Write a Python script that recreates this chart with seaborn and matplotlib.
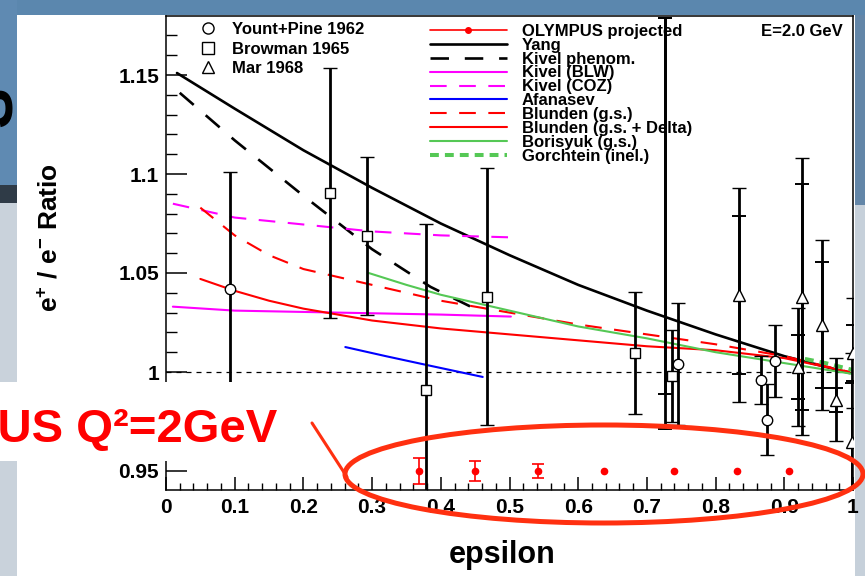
import numpy as np
import pandas as pd
import matplotlib
matplotlib.use("Agg")
import matplotlib.pyplot as plt
import seaborn as sns
from matplotlib.lines import Line2D
from matplotlib.patches import Rectangle, Ellipse
from matplotlib.ticker import MultipleLocator

# ---------------- data ----------------
yang_x = [0.016, 0.1, 0.2, 0.3, 0.4, 0.5, 0.6, 0.7, 0.8, 0.9, 0.995]
yang_y = [1.151, 1.133, 1.112, 1.093, 1.075, 1.059, 1.044, 1.031, 1.019, 1.008, 0.9995]

kivel_ph_x = [0.02, 0.1, 0.2, 0.3, 0.385, 0.461]
kivel_ph_y = [1.141, 1.117, 1.089, 1.062, 1.043, 1.030]

kivel_blw_x = [0.01, 0.1, 0.25, 0.4, 0.502]
kivel_blw_y = [1.033, 1.031, 1.030, 1.029, 1.028]

kivel_coz_x = [0.01, 0.1, 0.2, 0.3, 0.4, 0.502]
kivel_coz_y = [1.085, 1.078, 1.0745, 1.071, 1.069, 1.068]

afanasev_x = [0.261, 0.32, 0.38, 0.461]
afanasev_y = [1.0126, 1.008, 1.0035, 0.9975]

blunden_gs_x = [0.05, 0.1, 0.15, 0.2, 0.3, 0.4, 0.5, 0.6, 0.7, 0.8, 0.9, 0.995]
blunden_gs_y = [1.083, 1.069, 1.059, 1.052, 1.044, 1.036, 1.030, 1.024, 1.019, 1.014, 1.008, 1.000]

blunden_d_x = [0.05, 0.1, 0.15, 0.2, 0.3, 0.4, 0.5, 0.6, 0.7, 0.8, 0.9, 0.995]
blunden_d_y = [1.047, 1.041, 1.036, 1.032, 1.026, 1.022, 1.019, 1.016, 1.013, 1.011, 1.007, 1.000]

borisyuk_x = [0.295, 0.35, 0.4, 0.5, 0.6, 0.7, 0.8, 0.9, 1.0]
borisyuk_y = [1.050, 1.044, 1.039, 1.031, 1.023, 1.017, 1.010, 1.0045, 0.999]

gorchtein_x = [0.93, 0.96, 1.0]
gorchtein_y = [1.0066, 1.0045, 1.001]

# Yount+Pine 1962 (circles)
yp_x = [0.093, 0.745, 0.866, 0.875, 0.886]
yp_y = [1.042, 1.004, 0.996, 0.976, 1.0056]
yp_err = [0.059, 0.031, 0.012, 0.018, 0.018]

# Browman 1965 (squares)
br_x = [0.238, 0.293, 0.378, 0.467, 0.682, 0.737]
br_y = [1.0904, 1.0687, 0.991, 1.038, 1.0096, 0.998]
br_err = [0.063, 0.040, 0.084, 0.065, 0.031, 0.023]

# bar without visible marker
extra_x = [0.726]
extra_y = [1.075]
extra_err = [0.104]
extra_stat_low = [0.086]
extra_stat_high = [0.104]

# Mar 1968 (triangles)
mar_x = [0.834, 0.920, 0.926, 0.955, 0.975, 0.998, 1.0]
mar_y = [1.039, 1.0025, 1.038, 1.0237, 0.986, 0.9646, 1.0096]
mar_err = [0.054, 0.030, 0.070, 0.043, 0.021, 0.045, 0.028]
mar_stat = [0.040, 0.016, 0.057, 0.032, 0.006, 0.030, 0.014]

# OLYMPUS projected (nan = error bar hidden behind the dot)
oly_x = [0.368, 0.45, 0.541, 0.638, 0.739, 0.831, 0.907]
oly_y = [0.95, 0.95, 0.95, 0.95, 0.95, 0.95, 0.95]
oly_err = [0.0066, 0.005, 0.0035, np.nan, np.nan, np.nan, np.nan]

unity = 1.0
x_ticks = [0, 0.1, 0.2, 0.3, 0.4, 0.5, 0.6, 0.7, 0.8, 0.9, 1.0]
x_tick_labels = ["0", "0.1", "0.2", "0.3", "0.4", "0.5", "0.6", "0.7", "0.8", "0.9", "1"]
y_ticks = [0.95, 1.0, 1.05, 1.1, 1.15]
y_tick_labels = ["0.95", "1", "1.05", "1.1", "1.15"]

marker_labels = ["Yount+Pine 1962", "Browman 1965", "Mar 1968"]
curve_labels = ["OLYMPUS projected", "Yang", "Kivel phenom.", "Kivel (BLW)", "Kivel (COZ)",
                "Afanasev", "Blunden (g.s.)", "Blunden (g.s. + Delta)", "Borisyuk (g.s.)",
                "Gorchtein (inel.)"]

# ---------------- style ----------------
sns.set_theme(style="ticks")
plt.rcParams["font.family"] = ["Liberation Sans", "DejaVu Sans"]
plt.rcParams["font.weight"] = "bold"
plt.rcParams["text.color"] = "black"
plt.rcParams["xtick.color"] = "black"
plt.rcParams["ytick.color"] = "black"
plt.rcParams["mathtext.fontset"] = "custom"
plt.rcParams["mathtext.rm"] = "Liberation Sans:bold"
plt.rcParams["mathtext.bf"] = "Liberation Sans:bold"
plt.rcParams["mathtext.default"] = "regular"

W, H = 865, 576
fig = plt.figure(figsize=(W / 100, H / 100), dpi=100, facecolor="#5b87ae")


def fx(p):
    return p / W


def fy(p):
    return 1 - p / H


def frect(x0, y0, x1, y1, color, z):
    fig.add_artist(Rectangle((fx(x0), fy(y1)), fx(x1) - fx(x0), fy(y0) - fy(y1),
                             transform=fig.transFigure, facecolor=color,
                             edgecolor="none", zorder=z))


# slide backdrop
frect(0, 0, 17, 185, "#5f8ab2", -10)
frect(0, 185, 17, 203, "#2f3b47", -10)
frect(0, 203, 17, 576, "#c9d2db", -10)
frect(855, 15, 865, 205, "#6386a8", -10)
frect(855, 205, 865, 576, "#c6d0da", -10)
fig.text(fx(-4), fy(107), "S", rotation=90, ha="center", va="center",
         fontsize=44, weight="bold", color="black", zorder=-9)
frect(17, 15, 855, 576, "white", -8)

ax = fig.add_axes([fx(166), fy(490), fx(853) - fx(166), fy(16) - fy(490)])
ax.set_facecolor("white")
ax.set_xlim(0, 1)
ax.set_ylim(1 + (372 - 490) / 1980, 1 + (372 - 16) / 1980)

# ---------------- curves ----------------
curves = [
    (yang_x, yang_y, "black", "-", 1.9),
    (kivel_ph_x, kivel_ph_y, "black", (0, (7, 6)), 1.9),
    (kivel_blw_x, kivel_blw_y, "#ff00ff", "-", 1.5),
    (kivel_coz_x, kivel_coz_y, "#ff00ff", (0, (8, 6)), 1.5),
    (afanasev_x, afanasev_y, "#0000ff", "-", 1.5),
    (blunden_gs_x, blunden_gs_y, "#ff0000", (0, (8, 6)), 1.5),
    (blunden_d_x, blunden_d_y, "#ff0000", "-", 1.5),
    (borisyuk_x, borisyuk_y, "#55c855", "-", 1.5),
    (gorchtein_x, gorchtein_y, "#55c855", (0, (2.2, 1.5)), 2.9),
]
for cx, cy, col, ls, lw in curves:
    sns.lineplot(x=cx, y=cy, color=col, linestyle=ls, linewidth=lw, ax=ax,
                 legend=False, zorder=3)

ax.axhline(unity, color="black", lw=0.9, ls=(0, (4, 4)), zorder=2)

# ---------------- data points ----------------
eb = dict(ecolor="black", elinewidth=2.0, capsize=5, capthick=1.4, zorder=4)
ax.errorbar(yp_x, yp_y, yerr=yp_err, fmt="o", ms=7.5, mfc="white", mec="black",
            mew=1.0, **eb)
ax.errorbar(br_x, br_y, yerr=br_err, fmt="s", ms=7, mfc="white", mec="black",
            mew=1.0, **eb)
ax.errorbar(extra_x, extra_y, yerr=extra_err, fmt="none", **eb)
ax.errorbar(extra_x, extra_y, yerr=[extra_stat_low, extra_stat_high], fmt="none", **eb)
ax.errorbar(mar_x, mar_y, yerr=mar_err, fmt="^", ms=8.5, mfc="white", mec="black",
            mew=1.0, **eb)
ax.errorbar(mar_x, mar_y, yerr=mar_stat, fmt="none", **eb)
ax.errorbar(oly_x, oly_y, yerr=oly_err, fmt="o", ms=4.5, color="#ff0000",
            ecolor="#ff0000", elinewidth=1.2, capsize=4.5, capthick=1.2, zorder=5)

# ---------------- axes styling ----------------
for s in ax.spines.values():
    s.set_color("black")
    s.set_linewidth(1.1)
ax.set_xticks(x_ticks, labels=x_tick_labels)
ax.set_yticks(y_ticks, labels=y_tick_labels)
ax.xaxis.set_minor_locator(MultipleLocator(0.02))
ax.yaxis.set_minor_locator(MultipleLocator(0.01))
ax.tick_params(axis="x", which="major", direction="in", length=9.5, width=1.1,
               pad=6, labelsize=15)
ax.tick_params(axis="x", which="minor", direction="in", length=5, width=1.0)
ax.tick_params(axis="y", which="major", direction="in", length=15, width=1.1,
               pad=5, labelsize=15)
ax.tick_params(axis="y", which="minor", direction="in", length=8, width=1.0)
for lab in ax.get_xticklabels() + ax.get_yticklabels():
    lab.set_fontweight("bold")
ax.set_xlabel("")
ax.set_ylabel("")

fig.text(fx(502), fy(555), "epsilon", ha="center", va="center", fontsize=22,
         weight="bold")
fig.text(fx(50), fy(238), r"e$^{+}$ / e$^{-}$ Ratio", rotation=90, ha="center",
         va="center", fontsize=19, weight="bold",
         family=["Liberation Sans Narrow", "Liberation Sans"])

# ---------------- legends ----------------
left_handles = [
    Line2D([], [], ls="none", marker="o", ms=8, mfc="none", mec="black", mew=1.0),
    Line2D([], [], ls="none", marker="s", ms=8, mfc="none", mec="black", mew=1.0),
    Line2D([], [], ls="none", marker="^", ms=8, mfc="none", mec="black", mew=1.0),
]
leg1 = ax.legend(left_handles, marker_labels, loc="upper left",
                 bbox_to_anchor=(fx(200), fy(22)), bbox_transform=fig.transFigure,
                 frameon=False, prop={"weight": "bold", "size": 12},
                 handlelength=1.0, handletextpad=0.95, labelspacing=0.27,
                 borderpad=0, borderaxespad=0)
ax.add_artist(leg1)

right_handles = [Line2D([], [], color="#ff0000", lw=1.2, marker="o", ms=4)]
for _, _, col, ls, lw in curves:
    right_handles.append(Line2D([], [], color=col, ls=ls, lw=lw))
leg2 = ax.legend(right_handles, curve_labels, loc="upper left", numpoints=1,
                 bbox_to_anchor=(fx(430), fy(24)), bbox_transform=fig.transFigure,
                 frameon=False, prop={"weight": "bold", "size": 12},
                 handlelength=4.6, handletextpad=0.9, labelspacing=-0.07,
                 borderpad=0, borderaxespad=0)
fig.text(fx(843), fy(31), "E=2.0 GeV", ha="right", va="center", fontsize=12,
         weight="bold")

# ---------------- slide overlays ----------------
frect(0, 382, 302, 461, "white", 10)
fig.text(fx(277), fy(442), "OLYMPUS Q²=2GeV", ha="right", va="baseline",
         color="#ff0000", fontsize=34, weight="bold", zorder=12)
fig.add_artist(Ellipse((fx(604), fy(474)), fx(518), 98 / H, transform=fig.transFigure,
                       fill=False, edgecolor="#ff3010", lw=3.6, zorder=12))
fig.add_artist(Line2D([fx(312), fx(347)], [fy(423), fy(477)], transform=fig.transFigure,
                      color="#ff3010", lw=2.2, zorder=12))

fig.savefig("out.png", dpi=100, facecolor=fig.get_facecolor())
